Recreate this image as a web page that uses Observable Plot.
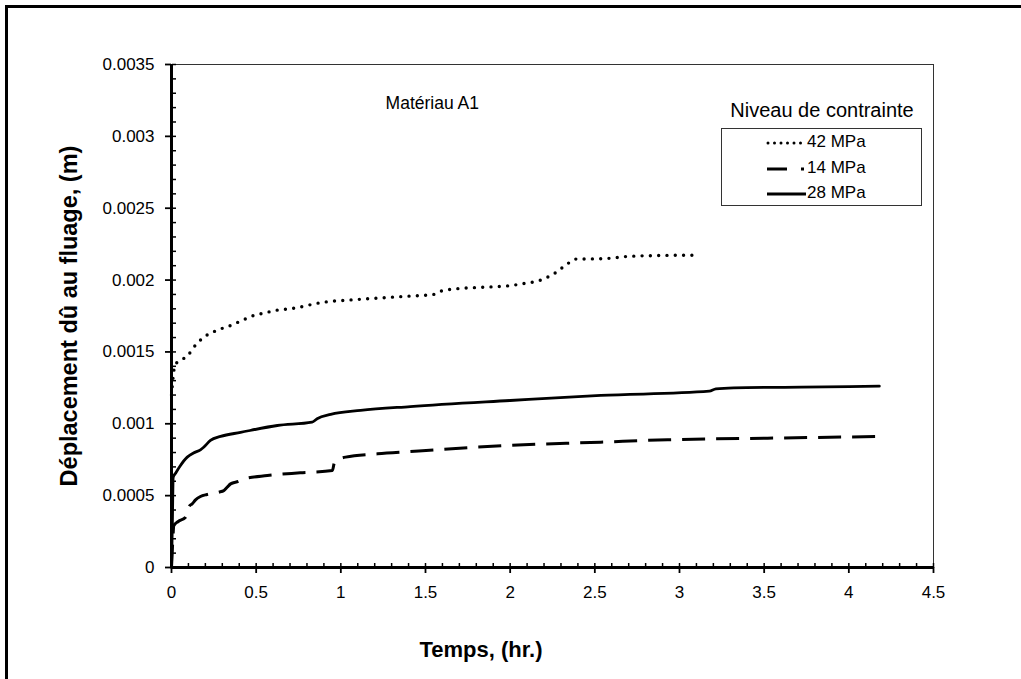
<!DOCTYPE html>
<html>
<head>
<meta charset="utf-8">
<script src="https://cdn.jsdelivr.net/npm/d3@7"></script>
<script src="https://cdn.jsdelivr.net/npm/@observablehq/plot@0.6"></script>
<style>
  html, body { margin: 0; padding: 0; background: #fff; }
  #wrap { position: relative; width: 1021px; height: 679px; overflow: hidden; background: #fff; font-family: "Liberation Sans", Arial, sans-serif; }
  #wrap svg { position: absolute; left: 0; top: 0; }
  #frame { position: absolute; left: 5px; top: 5px; width: 1040px; height: 700px; border: 3px solid #000; box-sizing: border-box; }
</style>
</head>
<body>
<div id="wrap"><div id="frame"></div></div>
<script>
// ---- data ----
const seriesNames = ["42 MPa", "14 MPa", "28 MPa"];
const legendTitle = "Niveau de contrainte";
const annotation = "Matériau A1";
const xTitle = "Temps, (hr.)";
const yTitle = "Déplacement dû au fluage, (m)";

const time42 = [0, 0.005, 0.01, 0.02, 0.06, 0.1, 0.13, 0.16, 0.2, 0.24, 0.29, 0.34, 0.38, 0.43, 0.47, 0.52, 0.57, 0.62, 0.7, 0.9, 1.1, 1.25, 1.4, 1.547, 1.59, 1.69, 1.84, 1.99, 2.08, 2.18, 2.225, 2.27, 2.31, 2.35, 2.39, 2.54, 2.69, 2.89, 3.09];
const disp42 = [0.0012, 0.00127, 0.00133, 0.00141, 0.001445, 0.00148, 0.00153, 0.00157, 0.00161, 0.001635, 0.00166, 0.00168, 0.0017, 0.001726, 0.001747, 0.001763, 0.001777, 0.00179, 0.0018, 0.001846, 0.001865, 0.001877, 0.001888, 0.0019, 0.001923, 0.00194, 0.00195, 0.00196, 0.001976, 0.002, 0.002023, 0.002053, 0.002088, 0.002122, 0.002146, 0.002148, 0.002164, 0.002171, 0.002173];

const time14 = [0, 0.006, 0.014, 0.04, 0.083, 0.108, 0.122, 0.142, 0.171, 0.21, 0.28, 0.31, 0.33, 0.349, 0.398, 0.427, 0.566, 0.76, 0.95, 0.963, 1.028, 1.216, 1.41, 2.0, 2.535, 2.93, 3.52, 4.21];
const disp14 = [0, 0.00015, 0.000292, 0.00032, 0.00035, 0.00043, 0.000443, 0.000471, 0.000494, 0.000508, 0.000524, 0.000536, 0.00056, 0.000582, 0.0006, 0.000617, 0.00064, 0.000659, 0.000675, 0.000733, 0.000768, 0.000791, 0.000807, 0.00085, 0.000872, 0.000889, 0.0009, 0.000912];

const time28 = [0, 0.005, 0.01, 0.024, 0.05, 0.093, 0.13, 0.171, 0.19, 0.23, 0.29, 0.408, 0.625, 0.83, 0.86, 0.94, 1.117, 1.41, 2.0, 2.535, 3.176, 3.215, 3.32, 3.72, 4.18];
const disp28 = [0, 0.0003, 0.000628, 0.000656, 0.000705, 0.000768, 0.000797, 0.000819, 0.000837, 0.000884, 0.000912, 0.00094, 0.000988, 0.001011, 0.001035, 0.001065, 0.001093, 0.00112, 0.001162, 0.001197, 0.001227, 0.001243, 0.00125, 0.001255, 0.001262];

const xTicks = [0, 0.5, 1, 1.5, 2, 2.5, 3, 3.5, 4, 4.5];
const yTicks = [0, 0.0005, 0.001, 0.0015, 0.002, 0.0025, 0.003, 0.0035];
const xMinor = d3.range(0, 46).map(i => i / 10);
const yMinor = d3.range(0, 36).map(i => i / 10000);

// ---- tidy table ----
const rows = (name, T, D) => T.map((t, i) => ({series: name, t, d: D[i]}));
const s42 = rows(seriesNames[0], time42, disp42);
const s14 = rows(seriesNames[1], time14, disp14);
const s28 = rows(seriesNames[2], time28, disp28);

const W = 1021, H = 679;
const chart = Plot.plot({
  width: W, height: H,
  marginLeft: 171, marginRight: 88, marginTop: 64, marginBottom: 112,
  style: {fontFamily: "'Liberation Sans', Arial, sans-serif", fontSize: "17px", color: "#000", background: "transparent", overflow: "visible"},
  x: {domain: [0, 4.5]},
  y: {domain: [0, 0.0035]},
  marks: [
    Plot.frame({stroke: "#333", strokeWidth: 1}),
    Plot.line(s42, {x: "t", y: "d", stroke: "#000", strokeWidth: 3.4, strokeDasharray: "0 8.3", strokeLinecap: "round", curve: "monotone-x"}),
    Plot.line(s14, {x: "t", y: "d", stroke: "#000", strokeWidth: 3, strokeDasharray: "23 11", strokeLinecap: "butt", curve: "monotone-x"}),
    Plot.line(s28, {x: "t", y: "d", stroke: "#000", strokeWidth: 2.8, curve: "monotone-x"}),
    // minor ticks pointing inward
    Plot.axisX({ticks: xMinor, anchor: "top", frameAnchor: "bottom", tickSize: 5, strokeWidth: 1.5, tickFormat: () => "", label: null}),
    Plot.axisY({ticks: yMinor, anchor: "right", frameAnchor: "left", tickSize: 4, strokeWidth: 1.5, tickFormat: () => "", label: null}),
    // major axes
    Plot.axisX({ticks: xTicks, tickSize: 6, tickPadding: 12, strokeWidth: 1.8, tickFormat: d => String(d), label: null}),
    Plot.axisY({ticks: yTicks, tickSize: 6, tickPadding: 11, strokeWidth: 1.8, tickFormat: d => String(d), label: null}),
    Plot.ruleX([0], {stroke: "#000", strokeWidth: 3}),
    Plot.ruleY([0], {stroke: "#000", strokeWidth: 3}),
    Plot.text([annotation], {x: 1.54, y: 0.00323, fontSize: 17.5, fill: "#000"})
  ]
});
document.getElementById("wrap").appendChild(chart);

// ---- overlay: axis titles + legend ----
const ov = d3.select("#wrap").append("svg").attr("width", W).attr("height", H)
  .style("font-family", "'Liberation Sans', Arial, sans-serif");
ov.append("text").attr("x", 481).attr("y", 651).attr("text-anchor", "middle").attr("dominant-baseline", "middle")
  .attr("font-size", 22).attr("font-weight", "bold").text(xTitle);
ov.append("text").attr("transform", "translate(71,316) rotate(-90)").attr("text-anchor", "middle").attr("dominant-baseline", "middle")
  .attr("font-size", 23.5).attr("font-weight", "bold").text(yTitle);
ov.append("text").attr("x", 822).attr("y", 112).attr("text-anchor", "middle").attr("dominant-baseline", "middle")
  .attr("font-size", 20).text(legendTitle);
ov.append("rect").attr("x", 721.5).attr("y", 128.5).attr("width", 200).attr("height", 77)
  .attr("fill", "#fff").attr("stroke", "#333").attr("stroke-width", 1);
const legendStyles = [
  {dash: "0 6.5", width: 3, cap: "round", y: 143},
  {dash: "20 14 3 40", width: 3, cap: "butt", y: 169},
  {dash: null, width: 3, cap: "butt", y: 194}
];
seriesNames.forEach((name, i) => {
  const s = legendStyles[i];
  const ln = ov.append("line").attr("x1", i === 0 ? 768 : 767).attr("x2", 806).attr("y1", s.y).attr("y2", s.y)
    .attr("stroke", "#000").attr("stroke-width", s.width).attr("stroke-linecap", s.cap);
  if (s.dash) ln.attr("stroke-dasharray", s.dash);
  ov.append("text").attr("x", 807).attr("y", s.y).attr("dominant-baseline", "middle").attr("font-size", 17).text(name);
});
</script>
</body>
</html>
